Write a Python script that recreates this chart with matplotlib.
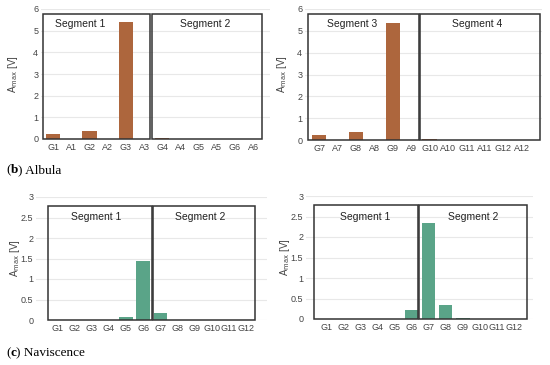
import matplotlib
matplotlib.use("Agg")
import matplotlib.pyplot as plt
from matplotlib.patches import Rectangle

# ---- data ----
cats_b1 = ["G1", "A1", "G2", "A2", "G3", "A3", "G4", "A4", "G5", "A5", "G6", "A6"]
vals_b1 = [0.21, 0.0, 0.36, 0.0, 5.38, 0.0, 0.04, 0.0, 0.02, 0.0, 0.02, 0.0]
cats_b2 = ["G7", "A7", "G8", "A8", "G9", "A9", "G10", "A10", "G11", "A11", "G12", "A12"]
vals_b2 = [0.21, 0.0, 0.36, 0.0, 5.38, 0.0, 0.03, 0.01, 0.01, 0.01, 0.01, 0.01]
cats_c = ["G1", "G2", "G3", "G4", "G5", "G6", "G7", "G8", "G9", "G10", "G11", "G12"]
vals_c1 = [0.0, 0.0, 0.0, 0.01, 0.07, 1.45, 0.17, 0.01, 0.0, 0.0, 0.0, 0.0]
vals_c2 = [0.0, 0.0, 0.0, 0.0, 0.01, 0.22, 2.35, 0.33, 0.03, 0.0, 0.0, 0.0]
seg_b1 = ["Segment 1", "Segment 2"]
seg_b2 = ["Segment 3", "Segment 4"]
seg_c = ["Segment 1", "Segment 2"]
ticks_b = [0, 1, 2, 3, 4, 5, 6]
ticks_c = [0, 0.5, 1, 1.5, 2, 2.5, 3]
ticklabels_c = ["0", "0.5", "1", "1.5", "2", "2.5", "3"]
captions = [("b", "Albula"), ("c", "Naviscence")]

BROWN = "#ad663d"
GREEN = "#5aa488"
W, H = 550, 365

plt.rcParams["font.family"] = ["Liberation Sans", "DejaVu Sans"]
fig = plt.figure(figsize=(5.5, 3.65), dpi=100)


def make_panel(px_left, px_right, py_bottom, py_top, xlim, ylim, cats, vals, color,
               yticks, yticklabels, boxes, box_top, segs, seg_pos, seg_y, ylabel_x):
    ax = fig.add_axes([px_left / W, 1 - py_bottom / H,
                       (px_right - px_left) / W, (py_bottom - py_top) / H])
    x = list(range(len(cats)))
    ax.bar(x, vals, width=0.78, color=color, zorder=3)
    ax.set_xlim(*xlim)
    ax.set_ylim(*ylim)
    ax.set_xticks(x)
    ax.set_xticklabels(cats, fontsize=6.5, color="#444444")
    ax.set_yticks(yticks)
    ax.set_yticklabels(yticklabels, fontsize=6.5, color="#444444")
    ax.tick_params(length=0, pad=2)
    ax.tick_params(axis="x", pad=3)
    ax.grid(axis="y", color="#e8e8e8", linewidth=0.8, zorder=0)
    for s in ax.spines.values():
        s.set_visible(False)
    for (x0, x1) in boxes:
        ax.add_patch(Rectangle((x0, 0), x1 - x0, box_top, fill=False,
                               edgecolor="#333333", linewidth=1.1, zorder=4,
                               clip_on=False))
    for s, xp in zip(segs, seg_pos):
        ax.text(xp, seg_y, s, ha="center", va="center", fontsize=7.5, color="#222222",
                zorder=5)
    fig.text(ylabel_x / W, 1 - ((py_bottom + py_top) / 2) / H,
             r"A$_{\mathrm{max}}$ [V]", rotation=90, ha="center", va="center",
             fontsize=7, color="#444444")
    return ax


# (b) top-left
make_panel(41, 270, 139, 9, (-0.66, 11.92), (0, 6), cats_b1, vals_b1, BROWN,
           ticks_b, [str(t) for t in ticks_b], [(-0.55, 5.33), (5.44, 11.48)], 5.77,
           seg_b1, [1.48, 8.35], 5.3, 13)
# (b) top-right
make_panel(305, 542, 140, 9, (-0.76, 12.09), (0, 6), cats_b2, vals_b2, BROWN,
           ticks_b, [str(t) for t in ticks_b], [(-0.6, 5.4), (5.5, 12.0)], 5.77,
           seg_b2, [1.79, 8.56], 5.3, 282)
# (c) bottom-left
make_panel(36, 267, 320, 197, (-1.22, 12.2), (0, 3), cats_c, vals_c1, GREEN,
           ticks_c, ticklabels_c, [(-0.52, 5.5), (5.6, 11.5)], 2.78,
           seg_c, [2.27, 8.31], 2.51, 15)
# (c) bottom-right
make_panel(306, 533, 319, 196, (-1.17, 12.1), (0, 3), cats_c, vals_c2, GREEN,
           ticks_c, ticklabels_c, [(-0.7, 5.38), (5.44, 11.75)], 2.78,
           seg_c, [2.28, 8.6], 2.49, 285)

# captions: "(" + bold letter + ") name", pieces placed side by side
renderer = fig.canvas.get_renderer()
for ypx, (letter, name) in zip([170, 353], captions):
    xpx = 6
    for piece, wt in [("(", "normal"), (letter, "bold"), (") " + name, "normal")]:
        t = fig.text(xpx / W, 1 - ypx / H, piece, fontsize=9.5,
                     family="Liberation Serif", weight=wt, va="center")
        bb = t.get_window_extent(renderer)
        xpx += bb.width

fig.savefig("out.png", dpi=100)
